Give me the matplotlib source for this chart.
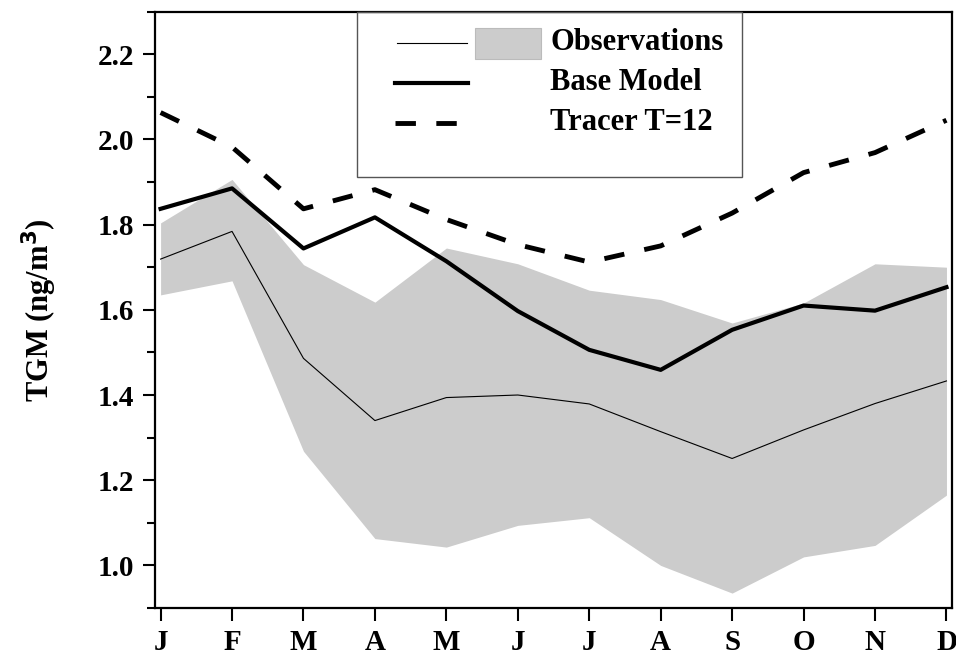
import matplotlib
matplotlib.use("Agg")
import matplotlib.pyplot as plt
from matplotlib.patches import Rectangle
from matplotlib.ticker import MultipleLocator

months = ["J", "F", "M", "A", "M", "J", "J", "A", "S", "O", "N", "D"]

obs_mean = [1.719, 1.784, 1.486, 1.340, 1.394, 1.400, 1.379, 1.314, 1.251, 1.318, 1.380, 1.433]
obs_upper = [1.804, 1.906, 1.706, 1.618, 1.745, 1.708, 1.646, 1.624, 1.569, 1.616, 1.708, 1.700]
obs_lower = [1.635, 1.668, 1.268, 1.063, 1.043, 1.094, 1.112, 1.000, 0.935, 1.020, 1.047, 1.165]
base_model = [1.837, 1.885, 1.744, 1.817, 1.714, 1.597, 1.506, 1.459, 1.553, 1.610, 1.598, 1.653]
tracer_t12 = [2.063, 1.982, 1.837, 1.882, 1.812, 1.753, 1.712, 1.750, 1.827, 1.922, 1.969, 2.045]

plt.rcParams['font.family'] = ['Liberation Serif', 'DejaVu Serif']
plt.rcParams['font.weight'] = 'bold'

fig = plt.figure(figsize=(9.56, 6.54), dpi=100)
ax = fig.add_axes([0.162, 0.0703, 0.834, 0.912])

x = list(range(len(months)))
ax.fill_between(x, obs_lower, obs_upper, color="#cccccc", lw=0, zorder=1)
ax.plot(x, obs_mean, color="black", lw=0.8, zorder=2)
ax.plot(x, base_model, color="black", lw=3.0, zorder=3)
ax.plot(x, tracer_t12, color="black", lw=3.5, linestyle=(0, (4.2, 4.2)), zorder=3)

ax.set_xlim(-0.08, 11.08)
ax.set_ylim(0.9, 2.3)
ax.set_xticks(x)
ax.set_xticklabels(months)
ax.yaxis.set_major_locator(MultipleLocator(0.2))
ax.yaxis.set_minor_locator(MultipleLocator(0.1))
ax.yaxis.set_major_formatter(plt.FormatStrFormatter("%.1f"))
ax.tick_params(axis="both", which="major", direction="out", length=9, width=1.5,
               labelsize=21, pad=6)
ax.tick_params(axis="y", which="minor", direction="out", length=6, width=1.5)
for s in ax.spines.values():
    s.set_linewidth(1.6)
ax.set_ylabel("TGM (ng/m$^\\mathbf{3}$)", fontsize=22, fontweight="bold", labelpad=28)

# legend drawn by hand: line and shaded box side by side for observations
tr = ax.transAxes
ax.add_patch(Rectangle((0.253, 0.723), 0.484, 0.277, transform=tr, fill=False,
                       edgecolor="#555555", lw=1.0, zorder=5, clip_on=False))
ax.plot([0.304, 0.391], [0.948, 0.948], transform=tr, color="black", lw=0.8, zorder=6)
ax.add_patch(Rectangle((0.401, 0.921), 0.083, 0.052, transform=tr, facecolor="#cccccc",
                       edgecolor="#bbbbbb", lw=0.8, zorder=6))
ax.plot([0.301, 0.393], [0.881, 0.881], transform=tr, color="black", lw=3.0, zorder=6)
ax.plot([0.301, 0.382], [0.814, 0.814], transform=tr, color="black", lw=3.5,
        linestyle=(0, (4.2, 4.2)), zorder=6)
for ypos, label in [(0.948, "Observations"), (0.881, "Base Model"), (0.814, "Tracer T=12")]:
    ax.text(0.496, ypos, label, transform=tr, fontsize=22, fontweight="bold",
            va="center", ha="left", zorder=6)

fig.savefig("out.png", dpi=100)
